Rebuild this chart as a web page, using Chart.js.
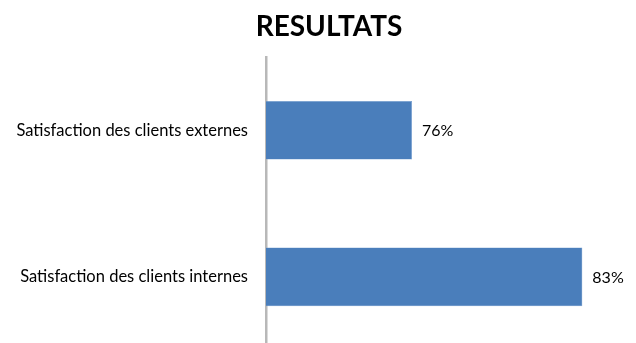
<!DOCTYPE html>
<html>
<head>
<meta charset="utf-8">
<script src="https://cdn.jsdelivr.net/npm/chart.js@4"></script>
<style>
  html, body { margin: 0; padding: 0; background: #fff; overflow: hidden; }
  #wrap { width: 636px; height: 343px; overflow: hidden; }
</style>
</head>
<body>
<div id="wrap"><canvas id="chart" width="636" height="378"></canvas></div>
<script>
// Chart data
const categories = ['Satisfaction des clients externes', 'Satisfaction des clients internes'];
const values = [76, 83];
const axisMin = 70;
const axisMax = 85;
const chartTitle = 'RESULTATS';

// Title drawn a bit right of the canvas centre, like the original slide
const titleText = {
    id: 'titleText',
    afterDraw(chart) {
        const ctx = chart.ctx;
        ctx.save();
        ctx.font = 'bold 28px Lato';
        ctx.fillStyle = '#000';
        ctx.textAlign = 'center';
        ctx.textBaseline = 'middle';
        ctx.fillText(chartTitle, 329, 27);
        ctx.restore();
    }
};

// Draw "76%" style labels just right of each bar
const valueLabels = {
    id: 'valueLabels',
    afterDatasetsDraw(chart) {
        const ctx = chart.ctx;
        const meta = chart.getDatasetMeta(0);
        ctx.save();
        ctx.font = '16px Lato';
        ctx.fillStyle = '#000';
        ctx.textAlign = 'left';
        ctx.textBaseline = 'middle';
        meta.data.forEach((bar, i) => {
            ctx.fillText(values[i] + '%', bar.x + 10, bar.y + 1);
        });
        ctx.restore();
    }
};

new Chart(document.getElementById('chart'), {
    type: 'bar',
    data: {
        labels: categories,
        datasets: [{
            data: values,
            backgroundColor: '#4a7ebb',
            borderColor: '#6f9bd0',
            borderWidth: 0.5,
            categoryPercentage: 0.8,
            barPercentage: 0.5
        }]
    },
    options: {
        indexAxis: 'y',
        responsive: false,
        animation: false,
        layout: { padding: { left: 0, right: 5, top: 57, bottom: 0 } },
        plugins: {
            legend: { display: false },
            tooltip: { enabled: false },
            title: { display: false }
        },
        scales: {
            x: {
                display: false,
                min: axisMin,
                max: axisMax
            },
            y: {
                afterFit(scale) { scale.width = 266; },
                grid: { display: false, drawTicks: false },
                border: { display: true, color: '#b8b8b8', width: 2.5 },
                ticks: {
                    color: '#000',
                    padding: 18,
                    font: { family: 'Lato', size: 16.5 }
                }
            }
        }
    },
    plugins: [valueLabels, titleText]
});
</script>
</body>
</html>
